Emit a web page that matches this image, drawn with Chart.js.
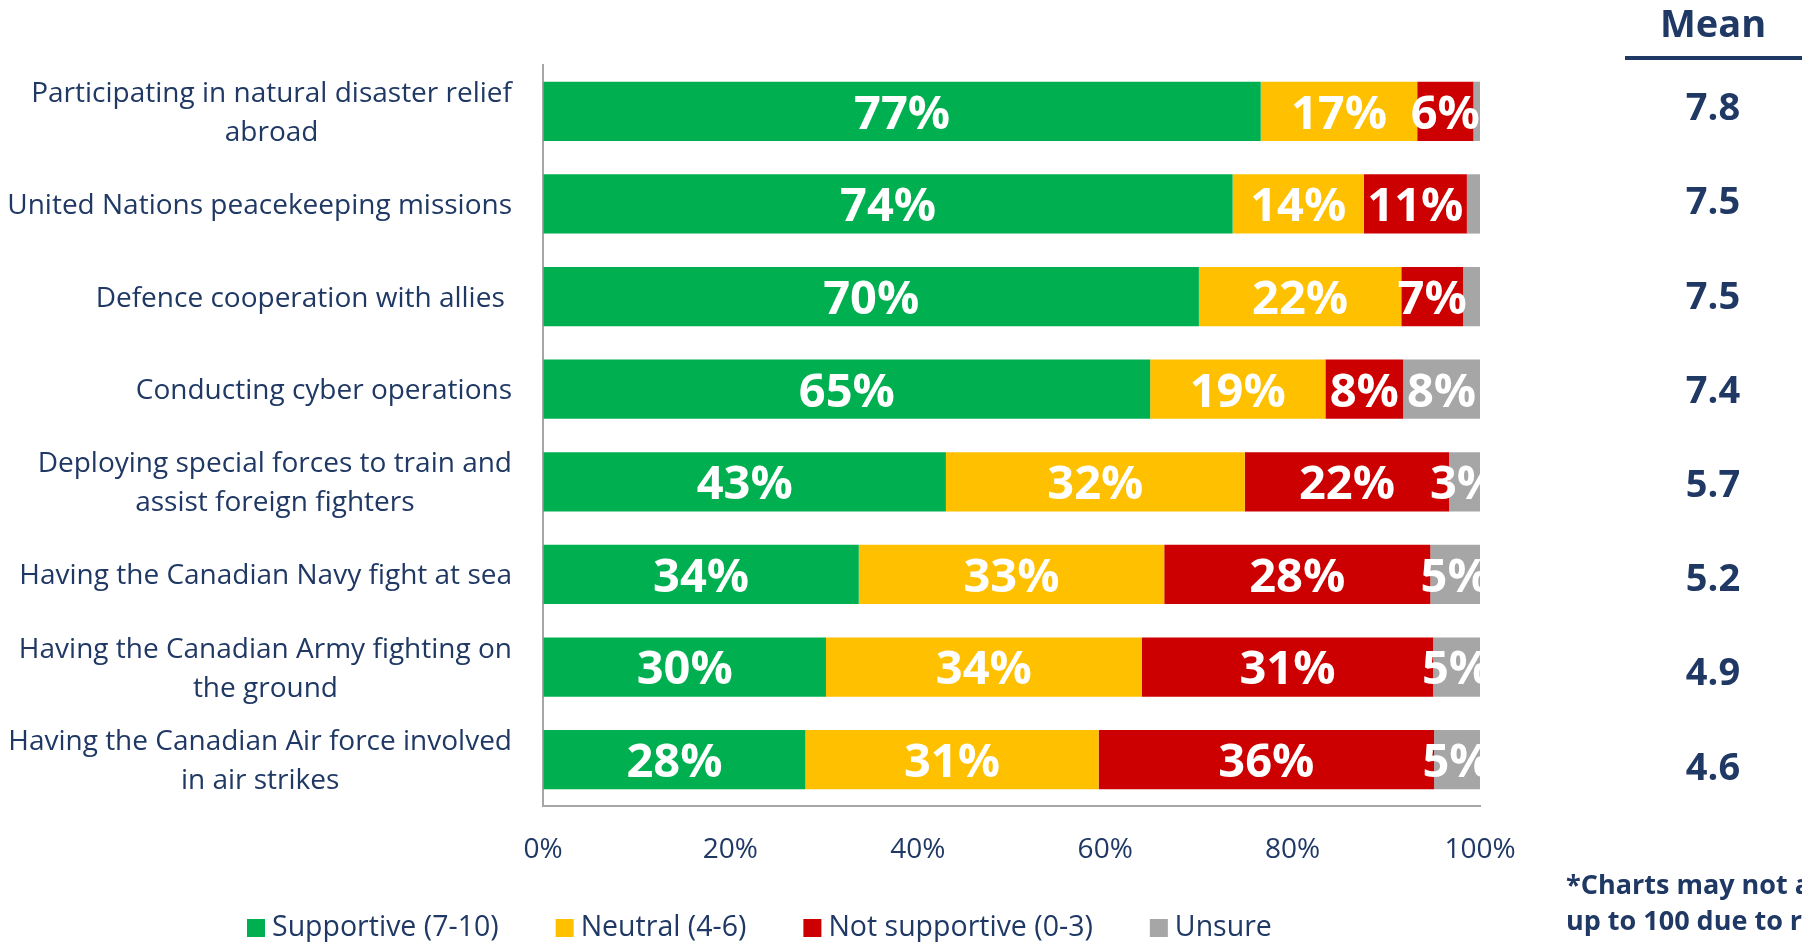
<!DOCTYPE html>
<html>
<head>
<meta charset="utf-8">
<script src="https://cdn.jsdelivr.net/npm/chart.js@4"></script>
<style>
  html, body { margin: 0; padding: 0; background: #fff; }
  #wrap { position: relative; width: 1802px; height: 942px; }
</style>
</head>
<body>
<div id="wrap"><canvas id="supportChart"></canvas></div>
<script>
// survey data (percent of respondents)
const categories = [
    ["Participating in natural disaster relief", "abroad"],
    ["United Nations peacekeeping missions"],
    ["Defence cooperation with allies "],
    ["Conducting cyber operations"],
    ["Deploying special forces to train and", "assist foreign fighters"],
    ["Having the Canadian Navy fight at sea"],
    ["Having the Canadian Army fighting on", "the ground"],
    ["Having the Canadian Air force involved", "in air strikes"]
];
const supportive    = [76.6, 73.6, 70.0, 64.8, 43.0, 33.7, 30.2, 28.0];
const neutral       = [16.7, 14.0, 21.6, 18.7, 31.9, 32.6, 33.7, 31.3];
const notSupportive = [6.0, 11.0, 6.6, 8.3, 21.8, 28.4, 31.1, 35.8];
const unsure        = [0.7, 1.4, 1.8, 8.2, 3.3, 5.3, 5.0, 4.9];
const means = [7.8, 7.5, 7.5, 7.4, 5.7, 5.2, 4.9, 4.6];
const xTicks = [0, 20, 40, 60, 80, 100];

const NAVY = "#1F3864";
const FONT = "'Open Sans', sans-serif";

// draws the category labels, mean column, legend, footnote and bar labels
const extrasPlugin = {
    id: "extras",
    afterDatasetsDraw(chart) {
        const ctx = chart.ctx;
        const area = chart.chartArea;
        // value labels inside bars, clipped at the plot edge
        ctx.save();
        ctx.beginPath();
        ctx.rect(area.left, area.top, area.right - area.left, area.bottom - area.top);
        ctx.clip();
        ctx.fillStyle = "#fff";
        ctx.font = "bold 47px " + FONT;
        ctx.textAlign = "center";
        ctx.textBaseline = "middle";
        chart.data.datasets.forEach((ds, di) => {
            const meta = chart.getDatasetMeta(di);
            meta.data.forEach((bar, i) => {
                const v = Math.round(ds.data[i]);
                if (v < 3) return;
                ctx.fillText(v + "%", (bar.x + bar.base) / 2, bar.y + 4);
            });
        });
        ctx.restore();
    },
    afterDraw(chart) {
        const ctx = chart.ctx;
        const yScale = chart.scales.y;
        ctx.save();
        ctx.fillStyle = NAVY;

        // category labels: block right-aligned, lines centered
        ctx.font = "28px " + FONT;
        ctx.textBaseline = "middle";
        ctx.textAlign = "center";
        categories.forEach((lines, i) => {
            const yc = yScale.getPixelForValue(i) + 2;
            const w = Math.max(...lines.map(l => ctx.measureText(l).width));
            const cx = 512 - w / 2;
            const lh = 39;
            lines.forEach((l, k) => {
                ctx.fillText(l, cx, yc + (k - (lines.length - 1) / 2) * lh);
            });
        });

        // mean column (its rows sit slightly wider apart than the bars)
        ctx.font = "bold 38px " + FONT;
        ctx.fillText("Mean", 1713, 26);
        ctx.fillRect(1625, 56, 177, 4);
        means.forEach((m, i) => {
            ctx.fillText(m.toFixed(1), 1713, yScale.getPixelForValue(i) - 2 + i * 1.6);
        });

        // footnote (runs off the right edge, as in the source)
        ctx.textAlign = "left";
        ctx.font = "bold 27px " + FONT;
        ctx.fillText("*Charts may not add", 1566, 886);
        ctx.fillText("up to 100 due to rounding", 1566, 922);

        // legend
        ctx.font = "28.5px " + FONT;
        let x = 247;
        const ly = 928;
        chart.data.datasets.forEach(ds => {
            ctx.fillStyle = ds.backgroundColor;
            ctx.fillRect(x, ly - 9, 18, 18);
            ctx.fillStyle = NAVY;
            ctx.fillText(ds.label, x + 25, ly);
            x += 25 + ctx.measureText(ds.label).width + 57;
        });
        ctx.restore();
    }
};

const ctx = document.getElementById("supportChart").getContext("2d");
const supportChart = new Chart(ctx, {
    type: "bar",
    data: {
        labels: categories,
        datasets: [
            { label: "Supportive (7-10)", data: supportive, backgroundColor: "#00B050" },
            { label: "Neutral (4-6)", data: neutral, backgroundColor: "#FFC000" },
            { label: "Not supportive (0-3)", data: notSupportive, backgroundColor: "#CC0000" },
            { label: "Unsure", data: unsure, backgroundColor: "#A6A6A6" }
        ]
    },
    options: {
        indexAxis: "y",
        responsive: true,
        maintainAspectRatio: false,
        animation: false,
        layout: { padding: { top: 65, right: 322, left: 0, bottom: 0 } },
        datasets: { bar: { barPercentage: 0.64, categoryPercentage: 1 } },
        plugins: {
            legend: { display: false },
            tooltip: { enabled: false }
        },
        scales: {
            x: {
                stacked: true,
                min: 0,
                max: 100,
                afterBuildTicks: scale => { scale.ticks = xTicks.map(v => ({ value: v })); },
                afterFit: scale => { scale.height = 136; },
                grid: { drawOnChartArea: false, drawTicks: false },
                border: { display: true, color: "#A6A6A6", width: 2 },
                ticks: {
                    padding: 27,
                    color: NAVY,
                    font: { family: FONT, size: 28 },
                    callback: v => v + "%"
                }
            },
            y: {
                stacked: true,
                afterFit: scale => { scale.width = 543; },
                grid: { drawOnChartArea: false, drawTicks: false },
                border: { display: true, color: "#A6A6A6", width: 2 },
                ticks: { display: false }
            }
        }
    },
    plugins: [extrasPlugin]
});
</script>
</body>
</html>
